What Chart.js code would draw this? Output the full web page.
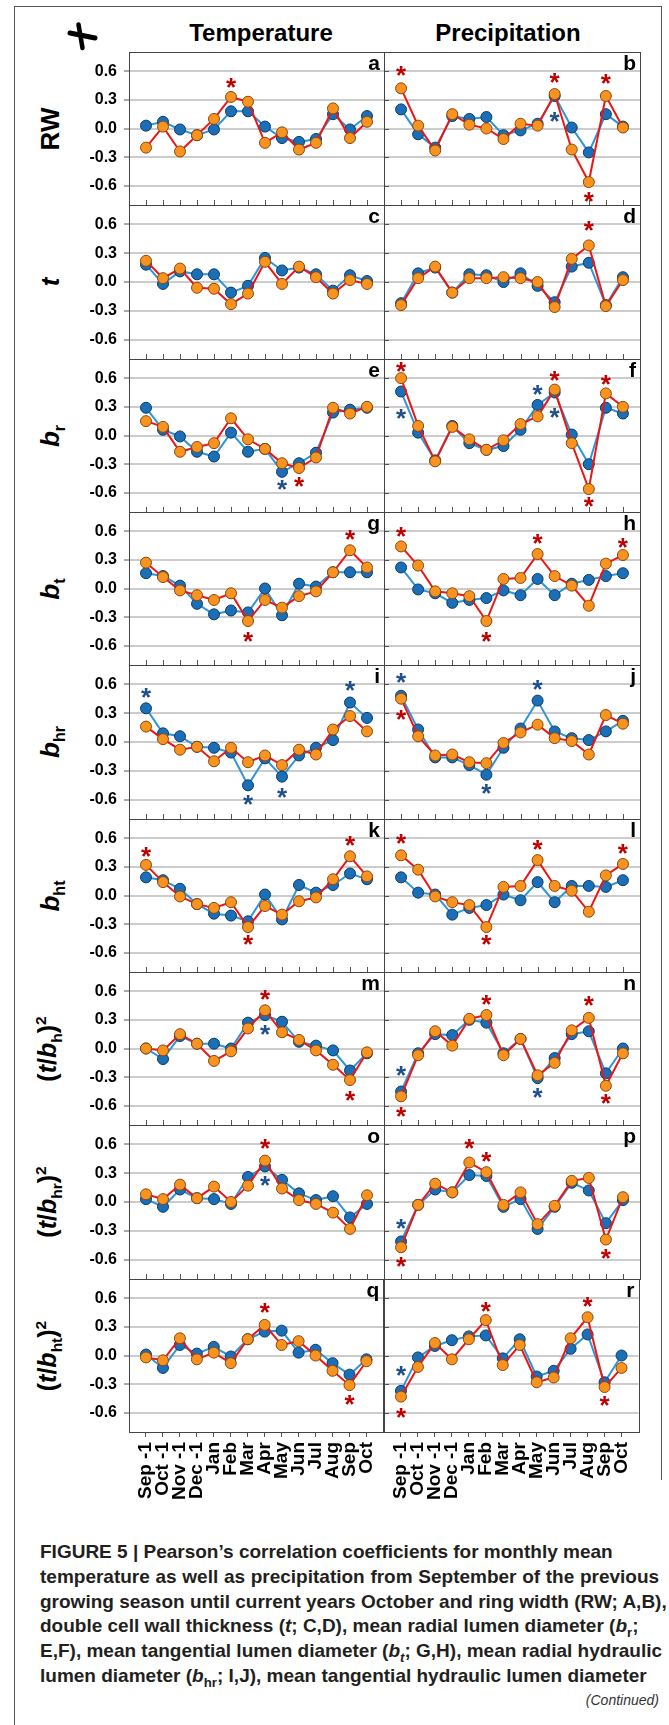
<!DOCTYPE html>
<html lang="en">
<head>
<meta charset="UTF-8">
<title>Figure 5</title>
<script src="https://cdn.jsdelivr.net/npm/chart.js"></script>
<style>
  body { margin: 0; background: #fff; font-family: "Liberation Sans", Arial, sans-serif; color: #000; }
  #page { position: relative; width: 669px; height: 1725px; overflow: hidden; }
  #page canvas { position: absolute; }
  .line { position: absolute; background: #555; }
  .head { position: absolute; top: 33px; transform: translate(-50%, -50%); font-weight: bold; font-size: 24px; white-space: nowrap; }
  .rowlab { position: absolute; transform: translate(-50%, -50%) rotate(-90deg); font-weight: bold; font-size: 26px; line-height: 1; white-space: nowrap; }
  .rowlab sub, .rowlab sup { font-size: 0.62em; line-height: 0; font-style: normal; }
  .cap { position: absolute; left: 40px; font-weight: bold; font-size: 19px; line-height: 24px; white-space: nowrap; color: #231f20; }
  .cap sub { font-size: 0.7em; line-height: 0; }
  .cont { position: absolute; right: 10px; font-style: italic; font-size: 14px; color: #333; white-space: nowrap; }
</style>
</head>
<body>
<div id="page">
  <div class="line" style="left:14px; top:6px; width:1px; height:1719px;"></div>
  <div class="line" style="left:14px; top:6px; width:648px; height:1px;"></div>
  <div class="line" style="left:661px; top:6px; width:1px; height:1474px;"></div>

  <svg style="position:absolute; left:60px; top:18px;" width="44" height="38" viewBox="60 18 44 38">
    <path d="M70 33 L95 38" stroke="#000" stroke-width="5" stroke-linecap="round"/>
    <path d="M78.5 24.5 L82.5 48" stroke="#000" stroke-width="4.5" stroke-linecap="round"/>
  </svg>

  <div class="head" style="left:261px;">Temperature</div>
  <div class="head" style="left:508px;">Precipitation</div>

  <div class="cap" style="top:1540px;">FIGURE 5 | Pearson’s correlation coefficients for monthly mean</div>
  <div class="cap" style="top:1564.8px; word-spacing:0.4px;">temperature as well as precipitation from September of the previous</div>
  <div class="cap" style="top:1589.6px;">growing season until current years October and ring width (RW; A,B),</div>
  <div class="cap" style="top:1614.4px;">double cell wall thickness (<i>t</i>; C,D), mean radial lumen diameter (<i>b</i><sub>r</sub>;</div>
  <div class="cap" style="top:1639.2px;">E,F), mean tangential lumen diameter (<i>b<sub>t</sub></i>; G,H), mean radial hydraulic</div>
  <div class="cap" style="top:1664px;">lumen diameter (<i>b</i><sub>hr</sub>; I,J), mean tangential hydraulic lumen diameter</div>
  <div class="cont" style="top:1692px;">(Continued)</div>
</div>
<script>
const months = ['Sep -1', 'Oct -1', 'Nov -1', 'Dec -1', 'Jan', 'Feb', 'Mar', 'Apr', 'May', 'Jun', 'Jul', 'Aug', 'Sep', 'Oct'];
const yTicks = [-0.6, -0.3, 0, 0.3, 0.6];

// correlations, one value per month; stars = [month index, y position, colour]
const tempRwBlue = [0.03, 0.07, -0.01, -0.07, -0.01, 0.18, 0.18, 0.02, -0.10, -0.14, -0.11, 0.15, -0.01, 0.13];
const tempRwOrange = [-0.20, 0.02, -0.24, -0.07, 0.10, 0.33, 0.28, -0.15, -0.04, -0.22, -0.15, 0.21, -0.10, 0.07];
const tempRwStars = [[5, 0.48, 'r']];
const precRwBlue = [0.20, -0.06, -0.20, 0.13, 0.10, 0.12, -0.07, -0.02, 0.05, 0.34, 0.01, -0.25, 0.15, 0.02];
const precRwOrange = [0.42, 0.03, -0.23, 0.15, 0.04, 0.00, -0.11, 0.05, 0.03, 0.36, -0.22, -0.56, 0.34, 0.01];
const precRwStars = [[0, 0.60, 'r'], [9, 0.53, 'r'], [12, 0.52, 'r'], [11, -0.72, 'r'], [9, 0.12, 'b']];

const tempTBlue = [0.18, -0.02, 0.11, 0.08, 0.08, -0.11, -0.04, 0.25, 0.12, 0.15, 0.08, -0.09, 0.07, 0.01];
const tempTOrange = [0.22, 0.04, 0.14, -0.06, -0.07, -0.23, -0.12, 0.21, -0.02, 0.16, 0.05, -0.12, 0.02, -0.02];
const tempTStars = [];
const precTBlue = [-0.22, 0.09, 0.15, -0.11, 0.08, 0.07, 0.00, 0.09, -0.04, -0.21, 0.16, 0.20, -0.24, 0.05];
const precTOrange = [-0.24, 0.04, 0.16, -0.11, 0.04, 0.04, 0.05, 0.04, 0.00, -0.26, 0.24, 0.38, -0.25, 0.02];
const precTStars = [[11, 0.58, 'r']];

const tempBrBlue = [0.29, 0.06, -0.01, -0.17, -0.22, 0.03, -0.17, -0.14, -0.38, -0.29, -0.18, 0.24, 0.27, 0.29];
const tempBrOrange = [0.15, 0.09, -0.17, -0.12, -0.08, 0.18, -0.04, -0.14, -0.29, -0.34, -0.23, 0.29, 0.23, 0.30];
const tempBrStars = [[8, -0.52, 'b'], [9, -0.49, 'r']];
const precBrBlue = [0.46, 0.03, -0.26, 0.10, -0.08, -0.15, -0.11, 0.06, 0.32, 0.45, 0.01, -0.30, 0.29, 0.23];
const precBrOrange = [0.60, 0.10, -0.27, 0.09, -0.04, -0.15, -0.05, 0.12, 0.20, 0.48, -0.08, -0.56, 0.44, 0.30];
const precBrStars = [[0, 0.72, 'r'], [0, 0.23, 'b'], [8, 0.48, 'b'], [9, 0.62, 'r'], [9, 0.24, 'b'], [11, -0.70, 'r'], [12, 0.58, 'r']];

const tempBtBlue = [0.16, 0.13, 0.03, -0.16, -0.27, -0.23, -0.25, 0.00, -0.28, 0.05, 0.02, 0.17, 0.17, 0.17];
const tempBtOrange = [0.27, 0.12, -0.02, -0.07, -0.12, -0.05, -0.34, -0.12, -0.20, -0.08, -0.03, 0.17, 0.40, 0.22];
const tempBtStars = [[6, -0.51, 'r'], [12, 0.56, 'r']];
const precBtBlue = [0.22, -0.01, -0.05, -0.15, -0.12, -0.10, -0.02, -0.07, 0.10, -0.07, 0.05, 0.09, 0.13, 0.16];
const precBtOrange = [0.44, 0.24, -0.03, -0.05, -0.08, -0.34, 0.10, 0.11, 0.36, 0.13, 0.03, -0.18, 0.26, 0.35];
const precBtStars = [[0, 0.59, 'r'], [5, -0.51, 'r'], [8, 0.52, 'r'], [13, 0.48, 'r']];

const tempBhrBlue = [0.35, 0.09, 0.06, -0.05, -0.06, -0.11, -0.45, -0.17, -0.36, -0.14, -0.06, 0.02, 0.41, 0.25];
const tempBhrOrange = [0.16, 0.03, -0.08, -0.05, -0.20, -0.06, -0.21, -0.14, -0.24, -0.08, -0.13, 0.13, 0.27, 0.11];
const tempBhrStars = [[0, 0.51, 'b'], [6, -0.60, 'b'], [8, -0.53, 'b'], [12, 0.58, 'b']];
const precBhrBlue = [0.48, 0.13, -0.16, -0.16, -0.24, -0.34, -0.06, 0.14, 0.43, 0.11, 0.04, 0.02, 0.11, 0.22];
const precBhrOrange = [0.45, 0.06, -0.14, -0.13, -0.21, -0.22, -0.01, 0.10, 0.18, 0.04, 0.01, -0.13, 0.28, 0.19];
const precBhrStars = [[0, 0.66, 'b'], [0, 0.28, 'r'], [5, -0.49, 'b'], [8, 0.59, 'b']];

const tempBhtBlue = [0.19, 0.16, 0.07, -0.09, -0.19, -0.21, -0.27, 0.01, -0.25, 0.11, 0.03, 0.11, 0.23, 0.17];
const tempBhtOrange = [0.32, 0.14, -0.01, -0.09, -0.13, -0.07, -0.33, -0.11, -0.20, -0.06, -0.02, 0.17, 0.41, 0.20];
const tempBhtStars = [[0, 0.45, 'r'], [6, -0.47, 'r'], [12, 0.57, 'r']];
const precBhtBlue = [0.19, 0.03, 0.01, -0.20, -0.13, -0.10, 0.01, -0.05, 0.14, -0.07, 0.10, 0.10, 0.09, 0.16];
const precBhtOrange = [0.42, 0.27, -0.01, -0.07, -0.10, -0.33, 0.09, 0.10, 0.37, 0.10, 0.05, -0.17, 0.21, 0.33];
const precBhtStars = [[0, 0.59, 'r'], [5, -0.47, 'r'], [8, 0.53, 'r'], [13, 0.49, 'r']];

const tempTbhBlue = [0.00, -0.11, 0.13, 0.05, 0.05, 0.00, 0.27, 0.35, 0.28, 0.07, 0.03, -0.02, -0.23, -0.05];
const tempTbhOrange = [0.00, -0.02, 0.15, 0.05, -0.13, -0.03, 0.21, 0.40, 0.17, 0.09, -0.02, -0.17, -0.33, -0.04];
const tempTbhStars = [[7, 0.56, 'r'], [7, 0.19, 'b'], [12, -0.50, 'r']];
const precTbhBlue = [-0.45, -0.05, 0.15, 0.14, 0.30, 0.27, -0.05, 0.10, -0.31, -0.10, 0.15, 0.18, -0.26, 0.00];
const precTbhOrange = [-0.50, -0.07, 0.18, 0.03, 0.31, 0.35, -0.07, 0.10, -0.28, -0.15, 0.19, 0.32, -0.39, -0.05];
const precTbhStars = [[0, -0.24, 'b'], [0, -0.66, 'r'], [5, 0.51, 'r'], [8, -0.47, 'b'], [11, 0.50, 'r'], [12, -0.53, 'r']];

const tempTbhrBlue = [0.03, -0.05, 0.13, 0.04, 0.03, -0.02, 0.26, 0.37, 0.23, 0.09, 0.02, 0.06, -0.16, -0.02];
const tempTbhrOrange = [0.08, 0.03, 0.18, 0.04, 0.16, 0.00, 0.17, 0.43, 0.14, 0.02, -0.02, -0.11, -0.28, 0.07];
const tempTbhrStars = [[7, 0.60, 'r'], [7, 0.22, 'b']];
const precTbhrBlue = [-0.41, -0.03, 0.13, 0.10, 0.28, 0.27, -0.05, 0.03, -0.28, -0.05, 0.20, 0.12, -0.22, 0.02];
const precTbhrOrange = [-0.47, -0.03, 0.19, 0.10, 0.41, 0.31, -0.03, 0.10, -0.23, -0.04, 0.22, 0.25, -0.39, 0.05];
const precTbhrStars = [[0, -0.23, 'b'], [0, -0.62, 'r'], [4, 0.60, 'r'], [5, 0.47, 'r'], [12, -0.54, 'r']];

const tempTbhtBlue = [0.01, -0.13, 0.11, 0.02, 0.09, -0.01, 0.17, 0.25, 0.26, 0.03, 0.06, -0.08, -0.20, -0.04];
const tempTbhtOrange = [-0.02, -0.05, 0.18, -0.04, 0.03, -0.08, 0.17, 0.32, 0.11, 0.15, 0.00, -0.16, -0.31, -0.06];
const tempTbhtStars = [[7, 0.50, 'r'], [12, -0.47, 'r']];
const precTbhtBlue = [-0.37, -0.02, 0.10, 0.16, 0.20, 0.21, -0.03, 0.17, -0.22, -0.16, 0.07, 0.22, -0.28, 0.00];
const precTbhtOrange = [-0.43, -0.12, 0.13, -0.04, 0.17, 0.37, -0.10, 0.11, -0.28, -0.23, 0.18, 0.40, -0.33, -0.13];
const precTbhtStars = [[0, -0.16, 'b'], [0, -0.60, 'r'], [5, 0.51, 'r'], [11, 0.56, 'r'], [12, -0.48, 'r']];

const rowLabels = [
  'RW', '<i>t</i>', '<i>b</i><sub>r</sub>', '<i>b</i><sub>t</sub>', '<i>b</i><sub>hr</sub>', '<i>b</i><sub>ht</sub>',
  '(<i>t</i>/<i>b</i><sub>h</sub>)<sup>2</sup>', '(<i>t</i>/<i>b</i><sub>hr</sub>)<sup>2</sup>', '(<i>t</i>/<i>b</i><sub>ht</sub>)<sup>2</sup>'
];

// panel table: letter, blue, orange, stars (left = temperature, right = precipitation)
const panels = [
  ['a', tempRwBlue, tempRwOrange, tempRwStars], ['b', precRwBlue, precRwOrange, precRwStars],
  ['c', tempTBlue, tempTOrange, tempTStars], ['d', precTBlue, precTOrange, precTStars],
  ['e', tempBrBlue, tempBrOrange, tempBrStars], ['f', precBrBlue, precBrOrange, precBrStars],
  ['g', tempBtBlue, tempBtOrange, tempBtStars], ['h', precBtBlue, precBtOrange, precBtStars],
  ['i', tempBhrBlue, tempBhrOrange, tempBhrStars], ['j', precBhrBlue, precBhrOrange, precBhrStars],
  ['k', tempBhtBlue, tempBhtOrange, tempBhtStars], ['l', precBhtBlue, precBhtOrange, precBhtStars],
  ['m', tempTbhBlue, tempTbhOrange, tempTbhStars], ['n', precTbhBlue, precTbhOrange, precTbhStars],
  ['o', tempTbhrBlue, tempTbhrOrange, tempTbhrStars], ['p', precTbhrBlue, precTbhrOrange, precTbhrStars],
  ['q', tempTbhtBlue, tempTbhtOrange, tempTbhtStars], ['r', precTbhtBlue, precTbhtOrange, precTbhtStars]
];

const BLUE = '#1b6fb6', BLUE_EDGE = '#0c3b68', BLUE_LINE = '#2f95d8';
const ORANGE = '#f8931f', ORANGE_EDGE = '#8a4810', RED_LINE = '#ee1515';
const STAR = { r: '#c00000', b: '#1f4e8c' };
const FONT = '"Liberation Sans", Arial, sans-serif';
Chart.defaults.font.family = FONT;

const page = document.getElementById('page');
const rowTops = [];
for (let r = 0; r <= 9; r++) rowTops.push(Math.round(52 + r * (1432 - 52) / 9));

rowLabels.forEach((html, r) => {
  const d = document.createElement('div');
  d.className = 'rowlab';
  d.innerHTML = html;
  d.style.left = (r >= 6 ? 47 : 50) + 'px';
  d.style.top = ((rowTops[r] + rowTops[r + 1]) / 2) + 'px';
  if (r >= 6) d.style.fontSize = '25px';
  page.appendChild(d);
});

const panelDecor = {
  id: 'panelDecor',
  afterDatasetsDraw(chart, args, opts) {
    const { ctx, chartArea: a, scales: { x, y } } = chart;
    ctx.save();
    ctx.strokeStyle = '#555';
    ctx.lineWidth = 1;
    ctx.beginPath();
    if (!opts.bottom) {
      months.forEach((m, i) => {
        const px = Math.round(x.getPixelForValue(i)) + 0.5;
        ctx.moveTo(px, a.bottom);
        ctx.lineTo(px, a.bottom - 5);
      });
    }
    if (opts.col === 1) {
      yTicks.forEach(v => {
        const py = Math.round(y.getPixelForValue(v)) + 0.5;
        ctx.moveTo(a.left, py);
        ctx.lineTo(a.left + 5, py);
      });
    }
    ctx.stroke();
    ctx.strokeStyle = '#444';
    ctx.strokeRect(Math.round(a.left) + 0.5, Math.round(a.top) + 0.5, Math.round(a.right - a.left), Math.round(a.bottom - a.top));

    // significance stars
    ctx.font = 'bold 26px ' + FONT;
    ctx.textAlign = 'center';
    ctx.textBaseline = 'alphabetic';
    const m = ctx.measureText('*');
    const shift = (m.actualBoundingBoxAscent - m.actualBoundingBoxDescent) / 2;
    opts.stars.forEach(([i, v, c]) => {
      ctx.fillStyle = STAR[c];
      ctx.fillText('*', x.getPixelForValue(i), y.getPixelForValue(v) + shift);
    });

    ctx.fillStyle = '#000';
    ctx.font = 'bold 21px ' + FONT;
    ctx.textAlign = 'right';
    ctx.fillText(opts.letter, a.right - 4, a.top + 18);
    ctx.restore();
  }
};

panels.forEach(([letter, blue, orange, stars], idx) => {
  const col = idx % 2, row = Math.floor(idx / 2);
  const isBottom = row === 8;
  const padT = 20, padB = isBottom ? 0 : 20, xAxisH = isBottom ? 92 : 0;
  const left = col === 0 ? 50 : 374;
  const width = col === 0 ? 345 : 276;
  const padL = col === 0 ? 0 : 10;
  const padR = col === 0 ? 11 : 10;
  const yAxisW = col === 0 ? 79 : 0;
  const height = padT + (rowTops[row + 1] - rowTops[row]) + xAxisH + padB;

  const canvas = document.createElement('canvas');
  canvas.width = width;
  canvas.height = height;
  canvas.style.left = left + 'px';
  canvas.style.top = (rowTops[row] - padT) + 'px';
  page.appendChild(canvas);

  new Chart(canvas, {
    type: 'line',
    data: {
      datasets: [
        {
          data: orange.map((v, i) => ({ x: i, y: v })),
          borderColor: RED_LINE, borderWidth: 2,
          pointRadius: 5.5, pointBackgroundColor: ORANGE, pointBorderColor: ORANGE_EDGE, pointBorderWidth: 1
        },
        {
          data: blue.map((v, i) => ({ x: i, y: v })),
          borderColor: BLUE_LINE, borderWidth: 2,
          pointRadius: 5.5, pointBackgroundColor: BLUE, pointBorderColor: BLUE_EDGE, pointBorderWidth: 1
        }
      ]
    },
    options: {
      responsive: false,
      animation: false,
      events: [],
      layout: { autoPadding: false, padding: { top: padT, bottom: padB, left: padL, right: padR } },
      plugins: {
        legend: { display: false },
        tooltip: { enabled: false },
        panelDecor: { letter, stars, col, bottom: isBottom }
      },
      scales: {
        x: {
          type: 'linear', min: -1, max: 14,
          display: isBottom,
          afterBuildTicks: s => { s.ticks = months.map((m, i) => ({ value: i })); },
          afterFit: s => { s.height = xAxisH; },
          grid: { display: true, drawOnChartArea: false, drawTicks: true, tickLength: 5, tickColor: '#555' },
          border: { display: false },
          ticks: {
            autoSkip: false, minRotation: 90, maxRotation: 90, padding: 5,
            color: '#000', font: { size: 19, weight: 'bold' },
            callback: v => months[v]
          }
        },
        y: {
          min: -0.8, max: 0.8,
          afterBuildTicks: s => { s.ticks = yTicks.map(v => ({ value: v })); },
          afterFit: s => { s.width = yAxisW; },
          grid: { color: '#cccccc', lineWidth: 2, drawTicks: col === 0, tickLength: 5, tickColor: '#555', tickWidth: 1 },
          border: { display: false },
          ticks: {
            display: col === 0, padding: 7,
            color: '#000', font: { size: 16, weight: 'bold' },
            callback: v => v.toFixed(1)
          }
        }
      }
    },
    plugins: [panelDecor]
  });
});
</script>
</body>
</html>
